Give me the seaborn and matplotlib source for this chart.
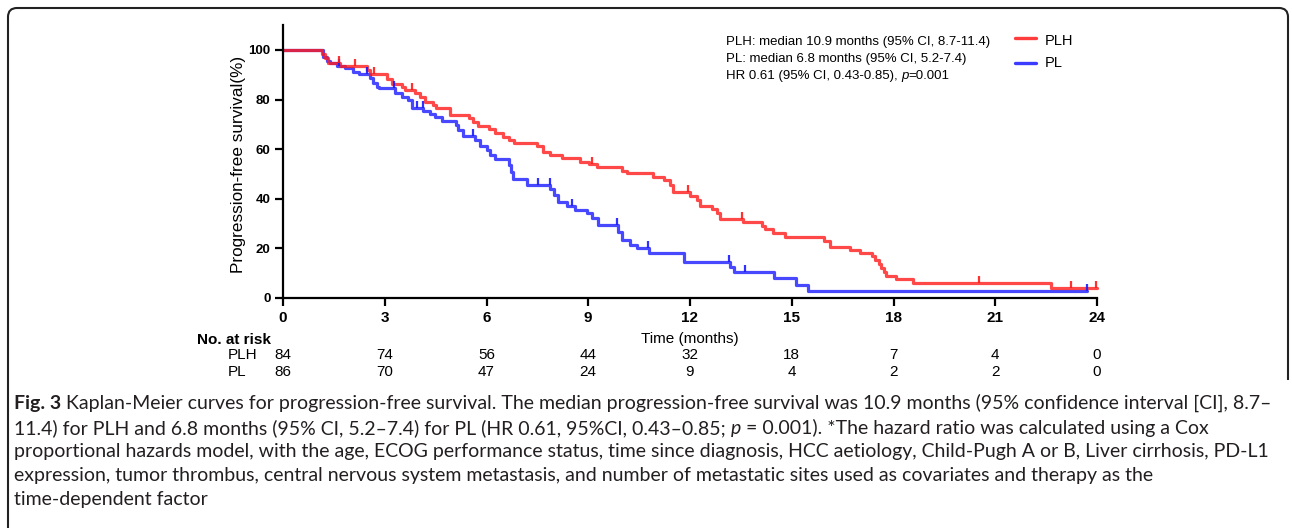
import numpy as np
import pandas as pd
import matplotlib
matplotlib.use("Agg")
import matplotlib.pyplot as plt
import seaborn as sns
from matplotlib import font_manager as fm, transforms as mtrans
from matplotlib.lines import Line2D
from matplotlib.path import Path
from matplotlib.patches import PathPatch

# ---------------- data ----------------
plh_times = [1.14, 1.24, 1.34, 1.68, 2.47, 2.57, 3.08, 3.20, 3.50, 3.60,
             3.90, 4.05, 4.20, 4.42, 4.52, 4.93, 5.47, 5.60, 5.75, 6.06,
             6.25, 6.50, 6.65, 6.80, 7.48, 7.68, 7.87, 8.22, 8.76, 9.02,
             9.26, 9.99, 10.14, 10.92, 11.22, 11.42, 11.51, 12.00, 12.20, 12.30,
             12.65, 12.79, 12.89, 13.55, 14.12, 14.22, 14.46, 14.81, 15.96, 16.14,
             16.73, 17.00, 17.37, 17.46, 17.56, 17.63, 17.71, 17.79, 18.08, 18.58,
             22.65]
plh_surv = [98.4, 96.6, 94.9, 93.7, 91.9, 90.2, 88.2, 86.2, 85.2, 83.9,
            82.5, 80.9, 79.2, 77.8, 76.5, 73.8, 72.4, 71.1, 69.4, 68.0,
            66.4, 64.8, 63.7, 62.6, 61.3, 59.0, 57.7, 56.3, 55.0, 54.0,
            52.7, 51.3, 50.3, 48.9, 47.6, 45.6, 42.9, 41.1, 39.5, 37.2,
            35.8, 34.2, 31.9, 30.5, 29.0, 27.7, 26.3, 24.7, 23.1, 20.7,
            19.4, 18.2, 16.8, 15.3, 13.8, 12.2, 10.6, 8.9, 7.5, 6.2,
            3.9]
plh_censor = [1.65, 2.12, 2.68, 3.81, 9.10, 11.94, 13.52, 20.53, 23.24, 23.97]
plh_end = 24.0

pl_times = [1.19, 1.29, 1.39, 1.60, 1.83, 2.07, 2.25, 2.57, 2.65, 2.76,
            2.84, 3.30, 3.50, 3.70, 3.80, 4.14, 4.34, 4.48, 4.68, 5.10,
            5.17, 5.32, 5.66, 5.81, 6.01, 6.11, 6.25, 6.65, 6.72, 6.79,
            7.19, 7.88, 7.99, 8.12, 8.37, 8.61, 8.96, 9.11, 9.30, 9.89,
            9.99, 10.24, 10.43, 10.78, 11.81, 13.19, 13.29, 14.48, 15.13, 15.47]
pl_surv = [97.3, 95.7, 94.6, 93.5, 92.6, 91.3, 90.2, 88.6, 86.6, 85.0,
           84.5, 82.5, 81.2, 79.8, 76.7, 75.5, 74.2, 72.8, 71.5, 69.8,
           67.7, 65.3, 63.7, 61.3, 59.7, 57.7, 55.9, 53.6, 50.9, 47.9,
           45.6, 43.8, 41.5, 38.8, 37.1, 35.5, 34.2, 32.1, 29.4, 26.7,
           23.4, 21.4, 20.0, 18.0, 14.7, 12.4, 10.4, 7.9, 5.2, 2.9]
pl_censor = [1.66, 2.47, 3.26, 3.96, 4.12, 5.61, 7.53, 7.86, 8.52, 9.86,
             10.76, 13.15, 13.62, 23.70]
pl_end = 23.7

groups = ["PLH", "PL"]
risk_times = [0, 3, 6, 9, 12, 15, 18, 21, 24]
plh_risk = [84, 74, 56, 44, 32, 18, 7, 4, 0]
pl_risk = [86, 70, 47, 24, 9, 4, 2, 2, 0]
y_ticks = [0, 20, 40, 60, 80, 100]

legend_lines = ["PLH: median 10.9 months (95% CI, 8.7-11.4)",
                "PL: median 6.8 months (95% CI, 5.2-7.4)"]
hr_text = "HR 0.61 (95% CI, 0.43-0.85), "
p_text = "=0.001"

caption_lines = [
    [("Fig. 3", "bold"), (" Kaplan-Meier curves for progression-free survival. The median progression-free survival was 10.9 months (95% confidence interval [CI], 8.7\u2013", "normal")],
    [("11.4) for PLH and 6.8 months (95% CI, 5.2\u20137.4) for PL (HR 0.61, 95%CI, 0.43\u20130.85; ", "normal"), ("p", "italic"), (" = 0.001). *The hazard ratio was calculated using a Cox", "normal")],
    [("proportional hazards model, with the age, ECOG performance status, time since diagnosis, HCC aetiology, Child-Pugh A or B, Liver cirrhosis, PD-L1", "normal")],
    [("expression, tumor thrombus, central nervous system metastasis, and number of metastatic sites used as covariates and therapy as the", "normal")],
    [("time-dependent factor", "normal")],
]

# ---------------- style ----------------
sns.set_theme(style="white")
plt.rcParams["font.family"] = ["Liberation Sans", "DejaVu Sans"]
available = {f.name for f in fm.fontManager.ttflist}
NARROW = "Liberation Sans Narrow" if "Liberation Sans Narrow" in available else "Liberation Sans"
CAPFONT = "Lato" if "Lato" in available else "DejaVu Sans"

RED = "#FF1A1A"
BLUE = "#1A1AFF"

W, H = 1292, 528
fig = plt.figure(figsize=(W / 100, H / 100), dpi=100)
fig.patch.set_facecolor("white")


def fx(px):
    return px / W


def fy(py):
    return 1 - py / H


ax = fig.add_axes([fx(283), fy(298), fx(1097) - fx(283), fy(25.2) - fy(298)])


def km_frame(name, times, surv, end):
    t = [0.0] + list(times) + [end]
    s = [100.0] + list(surv) + [surv[-1]]
    return pd.DataFrame({"time": t, "surv": s, "group": name})


df = pd.concat([km_frame("PL", pl_times, pl_surv, pl_end),
                km_frame("PLH", plh_times, plh_surv, plh_end)], ignore_index=True)

sns.lineplot(data=df, x="time", y="surv", hue="group", hue_order=["PL", "PLH"],
             palette={"PLH": RED, "PL": BLUE}, estimator=None, sort=False,
             drawstyle="steps-post", lw=2.3, alpha=0.8, legend=False, ax=ax,
             clip_on=False)


def surv_at(times, surv, c):
    i = np.searchsorted(times, c, side="right") - 1
    return 100.0 if i < 0 else surv[i]


for times, surv, cens, col in [(pl_times, pl_surv, pl_censor, BLUE),
                               (plh_times, plh_surv, plh_censor, RED)]:
    ys = np.array([surv_at(times, surv, c) for c in cens])
    ax.vlines(cens, ys, ys + 2.8, colors=col, lw=1.6, alpha=0.9, clip_on=False)

ax.set_xlim(0, 24)
ax.set_ylim(0, 110)
for s in ["top", "right"]:
    ax.spines[s].set_visible(False)
for s in ["left", "bottom"]:
    ax.spines[s].set_linewidth(1.6)
    ax.spines[s].set_color("black")
ax.set_xticks(risk_times)
ax.set_xticklabels([str(t) for t in risk_times], fontweight="bold", family=NARROW, fontsize=11)
ax.set_yticks(y_ticks)
ax.set_yticklabels([str(t) for t in y_ticks], fontweight="bold", fontsize=9.5)
ax.tick_params(axis="both", direction="out", length=6, width=1.6, color="black",
               labelcolor="black", pad=3, bottom=True, left=True)
ax.set_ylabel("Progression-free survival(%)", fontsize=12.3, color="black")
ax.yaxis.set_label_coords(-0.046, 0.49)
ax.set_xlabel("Time (months)", fontsize=11, family=NARROW, color="black")
ax.xaxis.set_label_coords(0.5, -0.125)
ax.set_facecolor("white")

# ---------------- risk table ----------------
trans = mtrans.blended_transform_factory(ax.transData, fig.transFigure)
fig.text(fx(197), fy(340), "No. at risk", fontweight="bold", family=NARROW, fontsize=11,
         va="center", ha="left", color="black")
for name, vals, py in [("PLH", plh_risk, 355), ("PL", pl_risk, 372)]:
    fig.text(fx(228), fy(py), name, family=NARROW, fontsize=11, va="center", ha="left", color="black")
    for t, n in zip(risk_times, vals):
        ax.text(t, fy(py), str(n), transform=trans, family=NARROW, fontsize=11,
                ha="center", va="center", color="black")

# ---------------- annotation + legend ----------------
for txt, py in zip(legend_lines, [42, 59]):
    fig.text(fx(726), fy(py), txt, fontsize=9.5, va="center", ha="left", color="black")
t3 = fig.text(fx(726), fy(76), hr_text, fontsize=9.5, va="center", ha="left", color="black")
tp = ax.annotate("p", xy=(1, 0), xycoords=t3, va="bottom", ha="left", fontsize=9.5,
                 style="italic", color="black", annotation_clip=False)
ax.annotate(p_text, xy=(1, 0), xycoords=tp, va="bottom", ha="left", fontsize=9.5,
            color="black", annotation_clip=False)

for name, col, py_line, py_txt in [("PLH", RED, 38, 41), ("PL", BLUE, 63, 63)]:
    fig.add_artist(Line2D([fx(1015), fx(1036)], [fy(py_line)] * 2, color=col, lw=2.4,
                          alpha=0.85, transform=fig.transFigure))
    fig.text(fx(1045), fy(py_txt), name, fontsize=10.5, va="center", ha="left", color="black")

# ---------------- caption ----------------
CAP_COLOR = "#231F20"
cap_artists = []
first_line_pieces = []
for li, (pieces, py) in enumerate(zip(caption_lines, [404, 428, 452, 476, 500])):
    prev = None
    for k, (txt, sty) in enumerate(pieces):
        kw = dict(family=CAPFONT, fontsize=12, color=CAP_COLOR)
        if sty == "bold":
            kw["fontweight"] = "bold"
        elif sty == "italic":
            kw["style"] = "italic"
        if prev is None:
            a = fig.text(fx(14), fy(py), txt, va="center", ha="left", **kw)
        else:
            a = ax.annotate(txt, xy=(1, 0), xycoords=prev, va="bottom", ha="left",
                            annotation_clip=False, **kw)
        cap_artists.append(a)
        if li == 0:
            first_line_pieces.append(a)
        prev = a

fig.canvas.draw()
r = fig.canvas.get_renderer()
x0 = first_line_pieces[0].get_window_extent(r).x0
x1 = first_line_pieces[-1].get_window_extent(r).x1
scale = (1267 - 14) / (x1 - x0)
for a in cap_artists:
    a.set_fontsize(12 * scale)

# ---------------- border ----------------
def P(px, py):
    return (fx(px), fy(py))


verts = [P(8, 528), P(8, 17), P(8, 8), P(17, 8), P(1279, 8), P(1288, 8), P(1288, 17), P(1288, 380)]
codes = [Path.MOVETO, Path.LINETO, Path.CURVE3, Path.CURVE3, Path.LINETO,
         Path.CURVE3, Path.CURVE3, Path.LINETO]
fig.add_artist(PathPatch(Path(verts, codes), facecolor="none", edgecolor="#222222",
                         lw=1.5, transform=fig.transFigure))

fig.savefig("out.png", dpi=100, facecolor="white")
